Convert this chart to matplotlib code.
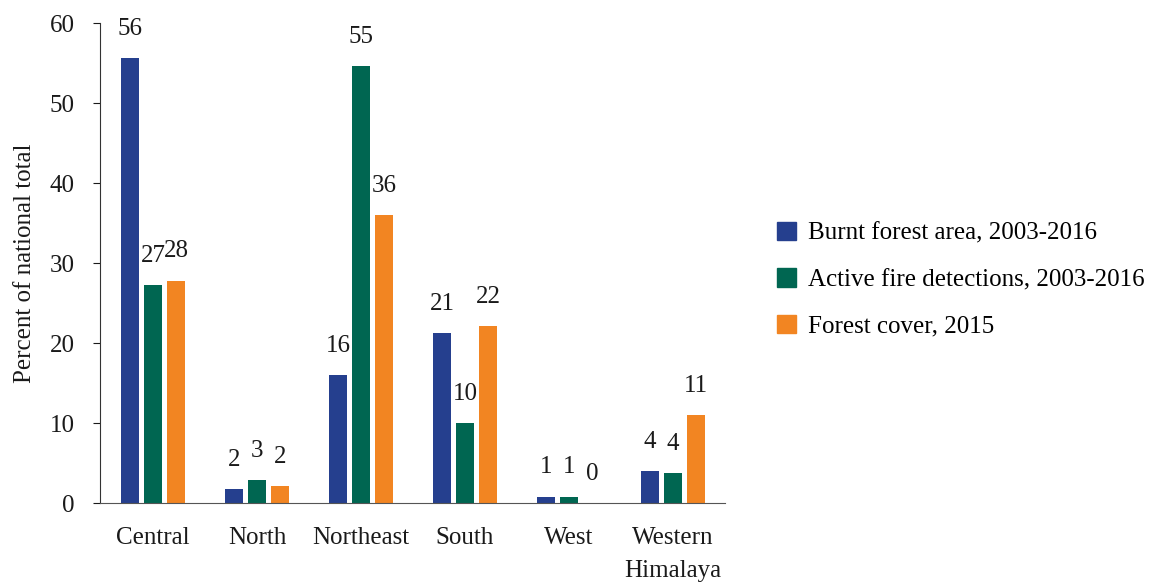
import matplotlib
matplotlib.use('Agg')
from matplotlib import pyplot as plt
from matplotlib.patches import Patch
import numpy as np

regions = ['Central', 'North', 'Northeast', 'South', 'West', 'Western\nHimalaya']
burnt = [55.6, 1.7, 16.0, 21.2, 0.8, 4.0]
active = [27.2, 2.9, 54.6, 10.0, 0.8, 3.7]
cover = [27.8, 2.1, 36.0, 22.1, 0.0, 11.0]
series_names = ['Burnt forest area, 2003-2016',
                'Active fire detections, 2003-2016',
                'Forest cover, 2015']
colors = ['#253f8e', '#006651', '#f28522']

plt.rcParams['font.family'] = ['Liberation Serif', 'DejaVu Serif']
fs = 18

fig = plt.figure(figsize=(11.57, 5.83), dpi=100)
ax = fig.add_axes([0.0864, 0.1372, 0.5402, 0.8233])

x = np.arange(len(regions))
width = 0.173
offset = 0.222
for k, vals in enumerate([burnt, active, cover]):
    pos = x + (k - 1) * offset
    ax.bar(pos, vals, width, color=colors[k])
    for px, v in zip(pos, vals):
        ax.annotate('%d' % round(v), (px, v), xytext=(0, 21),
                    textcoords='offset points', ha='center', va='center',
                    fontsize=fs, color='#1a1a1a')

ax.set_xlim(-0.51, 5.5)
ax.set_ylim(0, 60)
ax.set_yticks(range(0, 61, 10))
ax.set_xticks(x)
ax.set_xticklabels(regions, fontsize=fs, linespacing=1.65, va='top')
ax.tick_params(axis='x', length=0, pad=17, colors='#1a1a1a')
ax.tick_params(axis='y', length=5, pad=13, labelsize=fs, colors='#1a1a1a',
               direction='out')
for s in ['top', 'right']:
    ax.spines[s].set_visible(False)
ax.spines['left'].set_color('#333333')
ax.spines['bottom'].set_color('#555555')
ax.set_ylabel('Percent of national total', fontsize=fs, labelpad=10,
              color='#1a1a1a')

handles = [Patch(color=c) for c in colors]
fig.legend(handles, series_names, loc='center left',
           bbox_to_anchor=(0.652, 0.52), frameon=False, fontsize=fs,
           handlelength=0.75, handleheight=0.75, labelspacing=0.95,
           handletextpad=0.5)

fig.savefig('out.png', dpi=100)
